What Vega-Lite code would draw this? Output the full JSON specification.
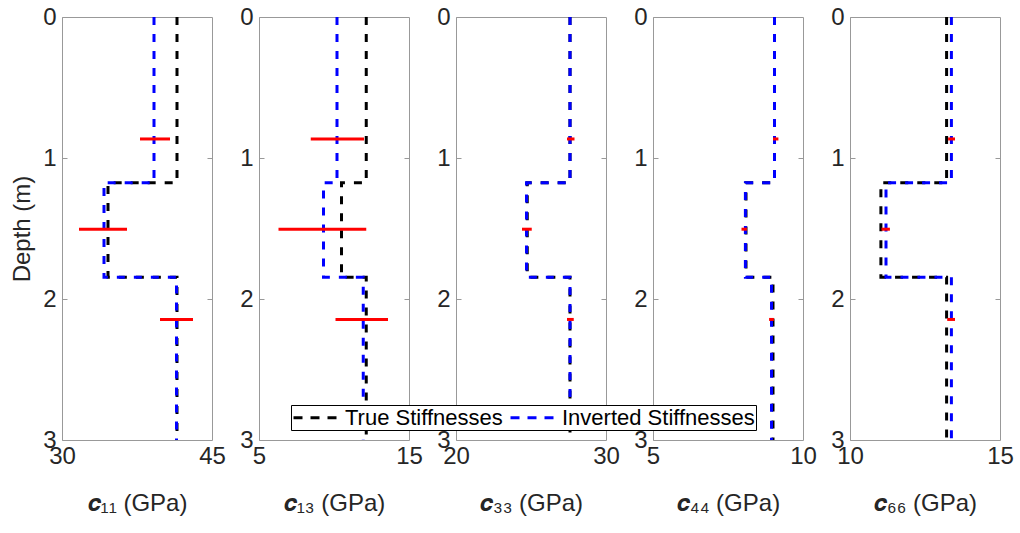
{
  "$schema": "https://vega.github.io/schema/vega-lite/v6.json",
  "background": "white",
  "padding": {"left": 10, "top": 4, "right": 5, "bottom": 5},
  "bounds": "flush",
  "spacing": 47,
  "datasets": {
    "steps": [
      {"p":"c11","s":"True Stiffnesses","i":0,"d":0,"v":41.5},{"p":"c11","s":"True Stiffnesses","i":1,"d":1.175,"v":41.5},{"p":"c11","s":"True Stiffnesses","i":2,"d":1.175,"v":34.6},{"p":"c11","s":"True Stiffnesses","i":3,"d":1.845,"v":34.6},{"p":"c11","s":"True Stiffnesses","i":4,"d":1.845,"v":41.5},{"p":"c11","s":"True Stiffnesses","i":5,"d":3,"v":41.5},
      {"p":"c11","s":"Inverted Stiffnesses","i":0,"d":0,"v":39.2},{"p":"c11","s":"Inverted Stiffnesses","i":1,"d":1.175,"v":39.2},{"p":"c11","s":"Inverted Stiffnesses","i":2,"d":1.175,"v":34.2},{"p":"c11","s":"Inverted Stiffnesses","i":3,"d":1.845,"v":34.2},{"p":"c11","s":"Inverted Stiffnesses","i":4,"d":1.845,"v":41.45},{"p":"c11","s":"Inverted Stiffnesses","i":5,"d":3,"v":41.45},
      {"p":"c13","s":"True Stiffnesses","i":0,"d":0,"v":12.15},{"p":"c13","s":"True Stiffnesses","i":1,"d":1.175,"v":12.15},{"p":"c13","s":"True Stiffnesses","i":2,"d":1.175,"v":10.5},{"p":"c13","s":"True Stiffnesses","i":3,"d":1.845,"v":10.5},{"p":"c13","s":"True Stiffnesses","i":4,"d":1.845,"v":12.15},{"p":"c13","s":"True Stiffnesses","i":5,"d":3,"v":12.15},
      {"p":"c13","s":"Inverted Stiffnesses","i":0,"d":0,"v":10.2},{"p":"c13","s":"Inverted Stiffnesses","i":1,"d":1.175,"v":10.2},{"p":"c13","s":"Inverted Stiffnesses","i":2,"d":1.175,"v":9.3},{"p":"c13","s":"Inverted Stiffnesses","i":3,"d":1.845,"v":9.3},{"p":"c13","s":"Inverted Stiffnesses","i":4,"d":1.845,"v":11.95},{"p":"c13","s":"Inverted Stiffnesses","i":5,"d":3,"v":11.95},
      {"p":"c33","s":"True Stiffnesses","i":0,"d":0,"v":27.6},{"p":"c33","s":"True Stiffnesses","i":1,"d":1.175,"v":27.6},{"p":"c33","s":"True Stiffnesses","i":2,"d":1.175,"v":24.75},{"p":"c33","s":"True Stiffnesses","i":3,"d":1.845,"v":24.75},{"p":"c33","s":"True Stiffnesses","i":4,"d":1.845,"v":27.6},{"p":"c33","s":"True Stiffnesses","i":5,"d":3,"v":27.6},
      {"p":"c33","s":"Inverted Stiffnesses","i":0,"d":0,"v":27.6},{"p":"c33","s":"Inverted Stiffnesses","i":1,"d":1.175,"v":27.6},{"p":"c33","s":"Inverted Stiffnesses","i":2,"d":1.175,"v":24.7},{"p":"c33","s":"Inverted Stiffnesses","i":3,"d":1.845,"v":24.7},{"p":"c33","s":"Inverted Stiffnesses","i":4,"d":1.845,"v":27.6},{"p":"c33","s":"Inverted Stiffnesses","i":5,"d":3,"v":27.6},
      {"p":"c44","s":"True Stiffnesses","i":0,"d":0,"v":9.05},{"p":"c44","s":"True Stiffnesses","i":1,"d":1.175,"v":9.05},{"p":"c44","s":"True Stiffnesses","i":2,"d":1.175,"v":8.1},{"p":"c44","s":"True Stiffnesses","i":3,"d":1.845,"v":8.1},{"p":"c44","s":"True Stiffnesses","i":4,"d":1.845,"v":9.0},{"p":"c44","s":"True Stiffnesses","i":5,"d":3,"v":9.0},
      {"p":"c44","s":"Inverted Stiffnesses","i":0,"d":0,"v":9.05},{"p":"c44","s":"Inverted Stiffnesses","i":1,"d":1.175,"v":9.05},{"p":"c44","s":"Inverted Stiffnesses","i":2,"d":1.175,"v":8.08},{"p":"c44","s":"Inverted Stiffnesses","i":3,"d":1.845,"v":8.08},{"p":"c44","s":"Inverted Stiffnesses","i":4,"d":1.845,"v":8.95},{"p":"c44","s":"Inverted Stiffnesses","i":5,"d":3,"v":8.95},
      {"p":"c66","s":"True Stiffnesses","i":0,"d":0,"v":13.22},{"p":"c66","s":"True Stiffnesses","i":1,"d":1.175,"v":13.22},{"p":"c66","s":"True Stiffnesses","i":2,"d":1.175,"v":11.03},{"p":"c66","s":"True Stiffnesses","i":3,"d":1.845,"v":11.03},{"p":"c66","s":"True Stiffnesses","i":4,"d":1.845,"v":13.22},{"p":"c66","s":"True Stiffnesses","i":5,"d":3,"v":13.22},
      {"p":"c66","s":"Inverted Stiffnesses","i":0,"d":0,"v":13.38},{"p":"c66","s":"Inverted Stiffnesses","i":1,"d":1.175,"v":13.38},{"p":"c66","s":"Inverted Stiffnesses","i":2,"d":1.175,"v":11.2},{"p":"c66","s":"Inverted Stiffnesses","i":3,"d":1.845,"v":11.2},{"p":"c66","s":"Inverted Stiffnesses","i":4,"d":1.845,"v":13.38},{"p":"c66","s":"Inverted Stiffnesses","i":5,"d":3,"v":13.38}
    ],
    "bars": [
      {"p":"c11","d":0.865,"lo":37.8,"hi":40.8},{"p":"c11","d":1.505,"lo":31.7,"hi":36.5},{"p":"c11","d":2.145,"lo":39.8,"hi":43.1},
      {"p":"c13","d":0.865,"lo":8.45,"hi":12.0},{"p":"c13","d":1.505,"lo":6.3,"hi":12.15},{"p":"c13","d":2.145,"lo":10.1,"hi":13.6},
      {"p":"c33","d":0.865,"lo":27.4,"hi":27.9},{"p":"c33","d":1.505,"lo":24.4,"hi":25.05},{"p":"c33","d":2.145,"lo":27.4,"hi":27.85},
      {"p":"c44","d":0.865,"lo":9.0,"hi":9.18},{"p":"c44","d":1.505,"lo":7.95,"hi":8.13},{"p":"c44","d":2.145,"lo":8.87,"hi":9.03},
      {"p":"c66","d":0.865,"lo":13.27,"hi":13.5},{"p":"c66","d":1.505,"lo":11.05,"hi":11.33},{"p":"c66","d":2.145,"lo":13.24,"hi":13.5}
    ]
  },
  "hconcat": [
    {
      "width": 150, "height": 423,
      "layer": [
        {"data":{"name":"steps"},"transform":[{"filter":"datum.p==='c11' && datum.s==='True Stiffnesses'"}],
         "mark":{"type":"line","strokeWidth":3,"strokeDash":[8,9]},
         "encoding":{
           "x":{"field":"v","type":"quantitative","scale":{"domain":[30,45],"nice":false,"zero":false},"axis":{"values":[30,45],"title":"𝒄₁₁ (GPa)"}},
           "y":{"field":"d","type":"quantitative","scale":{"domain":[0,3],"reverse":true,"nice":false,"zero":false},"axis":{"orient":"left","values":[0,1,2,3],"title":"Depth (m)"}},
           "order":{"field":"i","type":"quantitative"},
           "color":{"field":"s","type":"nominal","scale":{"domain":["True Stiffnesses","Inverted Stiffnesses"],"range":["#000000","#0000ff"]},"legend":{"orient":"none","legendX":229,"legendY":388}}}},
        {"data":{"name":"steps"},"transform":[{"filter":"datum.p==='c11' && datum.s==='Inverted Stiffnesses'"}],
         "mark":{"type":"line","strokeWidth":3,"strokeDash":[8,9]},
         "encoding":{
           "x":{"field":"v","type":"quantitative","axis":{"values":[30,45],"title":"𝒄₁₁ (GPa)"}},
           "y":{"field":"d","type":"quantitative","axis":null},
           "order":{"field":"i","type":"quantitative"},
           "color":{"field":"s","type":"nominal"}}},
        {"data":{"name":"bars"},"transform":[{"filter":"datum.p==='c11'"}],
         "mark":{"type":"rule","color":"#ff0000","strokeWidth":3},
         "encoding":{
           "x":{"field":"lo","type":"quantitative","axis":{"values":[30,45],"title":"𝒄₁₁ (GPa)"}},
           "x2":{"field":"hi"},
           "y":{"field":"d","type":"quantitative","axis":{"orient":"right","values":[1,2],"labels":false,"title":null}}}}
      ],
      "resolve":{"axis":{"y":"independent"}}
    },
    {
      "width": 150, "height": 423,
      "layer": [
        {"data":{"name":"steps"},"transform":[{"filter":"datum.p==='c13' && datum.s==='True Stiffnesses'"}],
         "mark":{"type":"line","strokeWidth":3,"strokeDash":[8,9]},
         "encoding":{
           "x":{"field":"v","type":"quantitative","scale":{"domain":[5,15],"nice":false,"zero":false},"axis":{"values":[5,15],"title":"𝒄₁₃ (GPa)"}},
           "y":{"field":"d","type":"quantitative","scale":{"domain":[0,3],"reverse":true,"nice":false,"zero":false},"axis":{"orient":"left","values":[0,1,2,3],"title":null}},
           "order":{"field":"i","type":"quantitative"},
           "color":{"field":"s","type":"nominal"}}},
        {"data":{"name":"steps"},"transform":[{"filter":"datum.p==='c13' && datum.s==='Inverted Stiffnesses'"}],
         "mark":{"type":"line","strokeWidth":3,"strokeDash":[8,9]},
         "encoding":{
           "x":{"field":"v","type":"quantitative","axis":{"values":[5,15],"title":"𝒄₁₃ (GPa)"}},
           "y":{"field":"d","type":"quantitative","axis":null},
           "order":{"field":"i","type":"quantitative"},
           "color":{"field":"s","type":"nominal"}}},
        {"data":{"name":"bars"},"transform":[{"filter":"datum.p==='c13'"}],
         "mark":{"type":"rule","color":"#ff0000","strokeWidth":3},
         "encoding":{
           "x":{"field":"lo","type":"quantitative","axis":{"values":[5,15],"title":"𝒄₁₃ (GPa)"}},
           "x2":{"field":"hi"},
           "y":{"field":"d","type":"quantitative","axis":{"orient":"right","values":[1,2],"labels":false,"title":null}}}}
      ],
      "resolve":{"axis":{"y":"independent"}}
    },
    {
      "width": 150, "height": 423,
      "layer": [
        {"data":{"name":"steps"},"transform":[{"filter":"datum.p==='c33' && datum.s==='True Stiffnesses'"}],
         "mark":{"type":"line","strokeWidth":3,"strokeDash":[8,9]},
         "encoding":{
           "x":{"field":"v","type":"quantitative","scale":{"domain":[20,30],"nice":false,"zero":false},"axis":{"values":[20,30],"title":"𝒄₃₃ (GPa)"}},
           "y":{"field":"d","type":"quantitative","scale":{"domain":[0,3],"reverse":true,"nice":false,"zero":false},"axis":{"orient":"left","values":[0,1,2,3],"title":null}},
           "order":{"field":"i","type":"quantitative"},
           "color":{"field":"s","type":"nominal"}}},
        {"data":{"name":"steps"},"transform":[{"filter":"datum.p==='c33' && datum.s==='Inverted Stiffnesses'"}],
         "mark":{"type":"line","strokeWidth":3,"strokeDash":[8,9]},
         "encoding":{
           "x":{"field":"v","type":"quantitative","axis":{"values":[20,30],"title":"𝒄₃₃ (GPa)"}},
           "y":{"field":"d","type":"quantitative","axis":null},
           "order":{"field":"i","type":"quantitative"},
           "color":{"field":"s","type":"nominal"}}},
        {"data":{"name":"bars"},"transform":[{"filter":"datum.p==='c33'"}],
         "mark":{"type":"rule","color":"#ff0000","strokeWidth":3},
         "encoding":{
           "x":{"field":"lo","type":"quantitative","axis":{"values":[20,30],"title":"𝒄₃₃ (GPa)"}},
           "x2":{"field":"hi"},
           "y":{"field":"d","type":"quantitative","axis":{"orient":"right","values":[1,2],"labels":false,"title":null}}}}
      ],
      "resolve":{"axis":{"y":"independent"}}
    },
    {
      "width": 150, "height": 423,
      "layer": [
        {"data":{"name":"steps"},"transform":[{"filter":"datum.p==='c44' && datum.s==='True Stiffnesses'"}],
         "mark":{"type":"line","strokeWidth":3,"strokeDash":[8,9]},
         "encoding":{
           "x":{"field":"v","type":"quantitative","scale":{"domain":[5,10],"nice":false,"zero":false},"axis":{"values":[5,10],"title":"𝒄₄₄ (GPa)"}},
           "y":{"field":"d","type":"quantitative","scale":{"domain":[0,3],"reverse":true,"nice":false,"zero":false},"axis":{"orient":"left","values":[0,1,2,3],"title":null}},
           "order":{"field":"i","type":"quantitative"},
           "color":{"field":"s","type":"nominal"}}},
        {"data":{"name":"steps"},"transform":[{"filter":"datum.p==='c44' && datum.s==='Inverted Stiffnesses'"}],
         "mark":{"type":"line","strokeWidth":3,"strokeDash":[8,9]},
         "encoding":{
           "x":{"field":"v","type":"quantitative","axis":{"values":[5,10],"title":"𝒄₄₄ (GPa)"}},
           "y":{"field":"d","type":"quantitative","axis":null},
           "order":{"field":"i","type":"quantitative"},
           "color":{"field":"s","type":"nominal"}}},
        {"data":{"name":"bars"},"transform":[{"filter":"datum.p==='c44'"}],
         "mark":{"type":"rule","color":"#ff0000","strokeWidth":3},
         "encoding":{
           "x":{"field":"lo","type":"quantitative","axis":{"values":[5,10],"title":"𝒄₄₄ (GPa)"}},
           "x2":{"field":"hi"},
           "y":{"field":"d","type":"quantitative","axis":{"orient":"right","values":[1,2],"labels":false,"title":null}}}}
      ],
      "resolve":{"axis":{"y":"independent"}}
    },
    {
      "width": 150, "height": 423,
      "layer": [
        {"data":{"name":"steps"},"transform":[{"filter":"datum.p==='c66' && datum.s==='True Stiffnesses'"}],
         "mark":{"type":"line","strokeWidth":3,"strokeDash":[8,9]},
         "encoding":{
           "x":{"field":"v","type":"quantitative","scale":{"domain":[10,15],"nice":false,"zero":false},"axis":{"values":[10,15],"title":"𝒄₆₆ (GPa)"}},
           "y":{"field":"d","type":"quantitative","scale":{"domain":[0,3],"reverse":true,"nice":false,"zero":false},"axis":{"orient":"left","values":[0,1,2,3],"title":null}},
           "order":{"field":"i","type":"quantitative"},
           "color":{"field":"s","type":"nominal"}}},
        {"data":{"name":"steps"},"transform":[{"filter":"datum.p==='c66' && datum.s==='Inverted Stiffnesses'"}],
         "mark":{"type":"line","strokeWidth":3,"strokeDash":[8,9]},
         "encoding":{
           "x":{"field":"v","type":"quantitative","axis":{"values":[10,15],"title":"𝒄₆₆ (GPa)"}},
           "y":{"field":"d","type":"quantitative","axis":null},
           "order":{"field":"i","type":"quantitative"},
           "color":{"field":"s","type":"nominal"}}},
        {"data":{"name":"bars"},"transform":[{"filter":"datum.p==='c66'"}],
         "mark":{"type":"rule","color":"#ff0000","strokeWidth":3},
         "encoding":{
           "x":{"field":"lo","type":"quantitative","axis":{"values":[10,15],"title":"𝒄₆₆ (GPa)"}},
           "x2":{"field":"hi"},
           "y":{"field":"d","type":"quantitative","axis":{"orient":"right","values":[1,2],"labels":false,"title":null}}}}
      ],
      "resolve":{"axis":{"y":"independent"}}
    }
  ],
  "resolve": {"scale": {"color": "shared"}, "legend": {"color": "shared"}},
  "config": {
    "font": "Liberation Sans",
    "view": {"stroke": "#999999", "strokeWidth": 1},
    "axis": {
      "grid": false, "domain": false,
      "labelFontSize": 24, "labelColor": "#262626", "labelFont": "Liberation Sans",
      "titleFontSize": 24, "titleFontWeight": "normal", "titleColor": "#262626", "titleFont": "Liberation Sans",
      "tickColor": "#999999", "tickWidth": 1
    },
    "axisX": {"ticks": false, "labelFlush": false, "labelPadding": 4, "titlePadding": 23},
    "axisY": {"tickSize": -5, "labelPadding": 11, "titlePadding": 8},
    "legend": {
      "title": null, "direction": "horizontal",
      "symbolType": "M-2.3,0H2.3", "symbolDash": [9, 8], "symbolStrokeWidth": 3, "symbolSize": 400, "symbolOffset": 13,
      "labelFontSize": 22, "labelColor": "#000000", "labelFont": "Liberation Sans", "labelLimit": 400,
      "strokeColor": "#000000", "fillColor": "#ffffff", "padding": 1, "columnPadding": 1, "labelOffset": 17
    }
  }
}
